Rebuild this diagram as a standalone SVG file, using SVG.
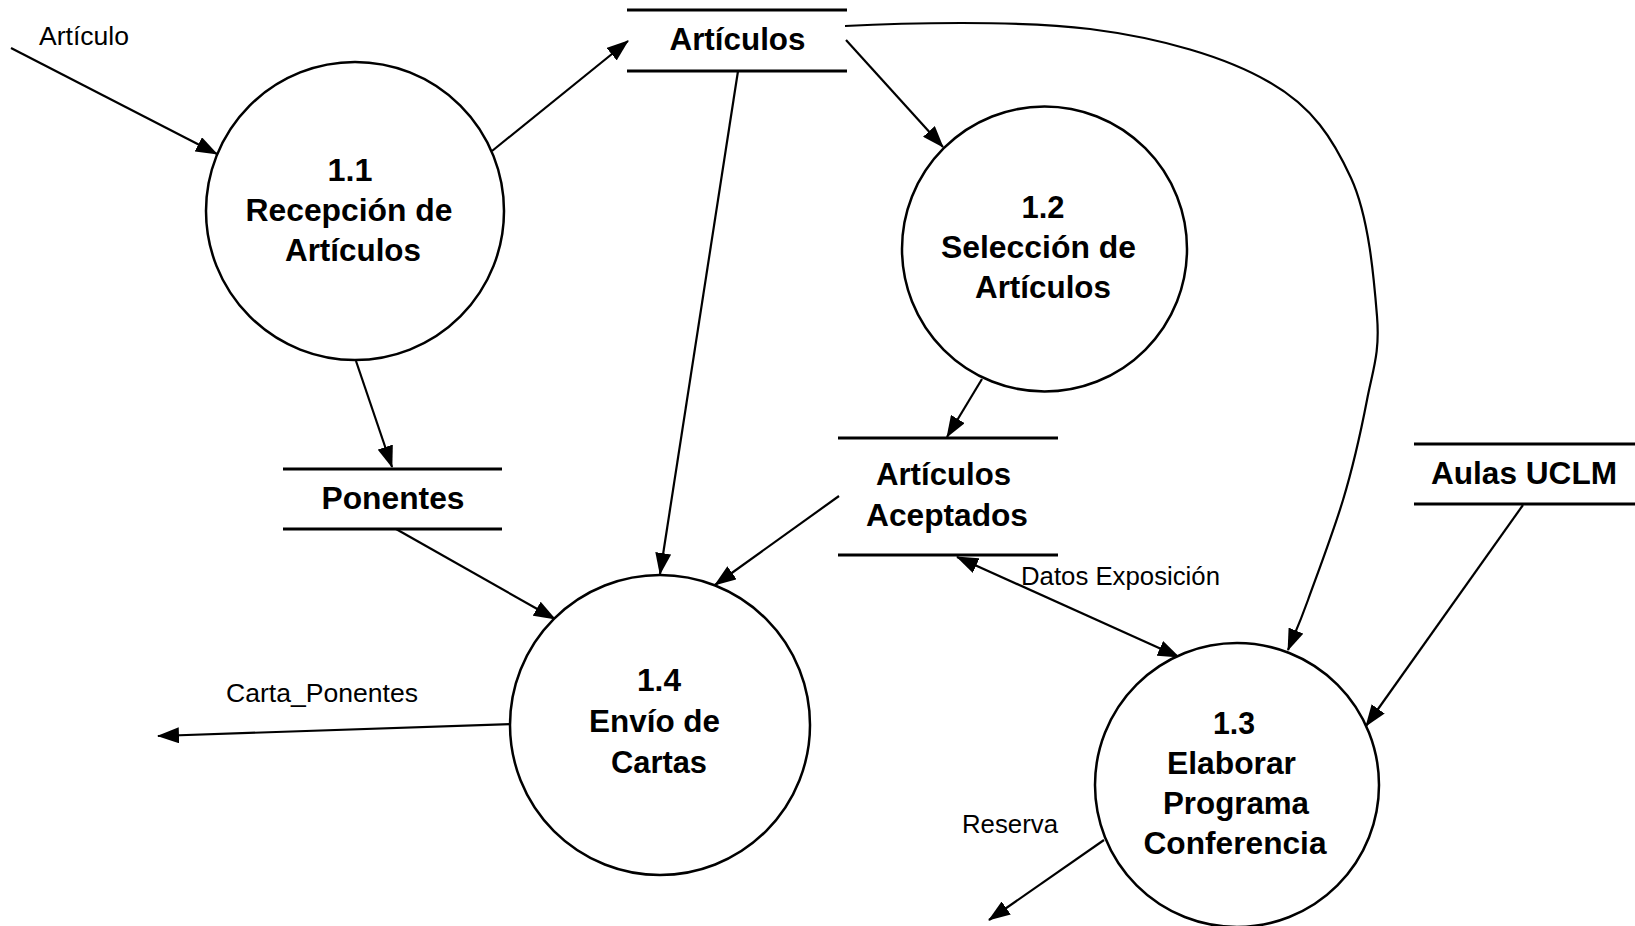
<svg xmlns="http://www.w3.org/2000/svg" width="1635" height="926" viewBox="0 0 1635 926">
<style>
.proc{fill:#fff;stroke:#000;stroke-width:2.5}
.store{stroke:#000;stroke-width:3}
.b{font-family:"Liberation Sans",Arial,sans-serif;font-weight:bold;font-size:31.5px;fill:#000;text-anchor:middle}
.r{font-family:"Liberation Sans",Arial,sans-serif;font-size:26px;fill:#000}
.flow{fill:none;stroke:#000;stroke-width:2.2}
</style>
<defs>
<marker id="ah" viewBox="0 0 22 16" refX="21" refY="8" markerWidth="22" markerHeight="16" markerUnits="userSpaceOnUse" orient="auto-start-reverse">
<path d="M0,0 L22,8 L0,16 z" fill="#000"/>
</marker>
</defs>
<rect width="1635" height="926" fill="#fff"/>

<g id="connectors">
<line class="flow" x1="11" y1="48" x2="217" y2="154" marker-end="url(#ah)"/>
<line class="flow" x1="492" y1="151" x2="628" y2="41" marker-end="url(#ah)"/>
<line class="flow" x1="738" y1="71" x2="660" y2="574" marker-end="url(#ah)"/>
<line class="flow" x1="846" y1="40" x2="943" y2="147" marker-end="url(#ah)"/>
<path class="flow" d="M845,26 C900,23 1019,20 1090,29 C1161,38 1226,57 1269,82 C1313,107 1333,139 1351,178 C1369,217 1374,279 1377,316 C1380,353 1373,369 1367,400 C1361,431 1353,467 1343,500 C1333,533 1317,575 1308,600 C1299,625 1295,633 1288,650" marker-end="url(#ah)"/>
<line class="flow" x1="982" y1="379" x2="947" y2="437" marker-end="url(#ah)"/>
<line class="flow" x1="356" y1="361" x2="392" y2="467" marker-end="url(#ah)"/>
<line class="flow" x1="396" y1="529" x2="555" y2="619" marker-end="url(#ah)"/>
<line class="flow" x1="839" y1="496" x2="715" y2="585" marker-end="url(#ah)"/>
<line class="flow" x1="511" y1="724" x2="158" y2="736" marker-end="url(#ah)"/>
<line class="flow" x1="957" y1="557" x2="1179" y2="657" marker-start="url(#ah)" marker-end="url(#ah)"/>
<line class="flow" x1="1523" y1="505" x2="1366" y2="726" marker-end="url(#ah)"/>
<line class="flow" x1="1104" y1="840" x2="989" y2="920" marker-end="url(#ah)"/>
<text class="r" x="39" y="45" textLength="90" lengthAdjust="spacingAndGlyphs">Artículo</text>
<text class="r" x="226" y="702" textLength="192" lengthAdjust="spacingAndGlyphs">Carta_Ponentes</text>
<text class="r" x="1021" y="585" textLength="199" lengthAdjust="spacingAndGlyphs">Datos Exposición</text>
<text class="r" x="962" y="833" textLength="96" lengthAdjust="spacingAndGlyphs">Reserva</text>
</g>

<g id="store-articulos">
<line class="store" x1="627" y1="10" x2="847" y2="10"/>
<line class="store" x1="627" y1="71" x2="847" y2="71"/>
<text class="b" x="737.5" y="50" textLength="136" lengthAdjust="spacingAndGlyphs">Artículos</text>
</g>

<g id="store-ponentes">
<line class="store" x1="283" y1="469" x2="502" y2="469"/>
<line class="store" x1="283" y1="529" x2="502" y2="529"/>
<text class="b" x="393" y="509" textLength="143" lengthAdjust="spacingAndGlyphs">Ponentes</text>
</g>

<g id="store-aceptados">
<line class="store" x1="838" y1="438" x2="1058" y2="438"/>
<line class="store" x1="838" y1="555" x2="1058" y2="555"/>
<text class="b" x="943.5" y="485" textLength="135" lengthAdjust="spacingAndGlyphs">Artículos</text>
<text class="b" x="947" y="526" textLength="162" lengthAdjust="spacingAndGlyphs">Aceptados</text>
</g>

<g id="store-aulas">
<line class="store" x1="1414" y1="444" x2="1635" y2="444"/>
<line class="store" x1="1414" y1="504" x2="1635" y2="504"/>
<text class="b" x="1524" y="484" textLength="186" lengthAdjust="spacingAndGlyphs">Aulas UCLM</text>
</g>

<g id="p11">
<circle class="proc" cx="355" cy="211" r="149"/>
<text class="b" x="350" y="181" textLength="45" lengthAdjust="spacingAndGlyphs">1.1</text>
<text class="b" x="349" y="221" textLength="207" lengthAdjust="spacingAndGlyphs">Recepción de</text>
<text class="b" x="353" y="261" textLength="136" lengthAdjust="spacingAndGlyphs">Artículos</text>
</g>

<g id="p12">
<circle class="proc" cx="1044.5" cy="249" r="142.5"/>
<text class="b" x="1043" y="218" textLength="43" lengthAdjust="spacingAndGlyphs">1.2</text>
<text class="b" x="1038.5" y="258" textLength="195" lengthAdjust="spacingAndGlyphs">Selección de</text>
<text class="b" x="1043" y="298" textLength="136" lengthAdjust="spacingAndGlyphs">Artículos</text>
</g>

<g id="p14">
<circle class="proc" cx="660" cy="725" r="150"/>
<text class="b" x="659" y="691" textLength="44" lengthAdjust="spacingAndGlyphs">1.4</text>
<text class="b" x="654.5" y="732" textLength="131" lengthAdjust="spacingAndGlyphs">Envío de</text>
<text class="b" x="659" y="773" textLength="96" lengthAdjust="spacingAndGlyphs">Cartas</text>
</g>

<g id="p13">
<circle class="proc" cx="1237" cy="785" r="142"/>
<text class="b" x="1234" y="734" textLength="42" lengthAdjust="spacingAndGlyphs">1.3</text>
<text class="b" x="1231.5" y="774" textLength="129" lengthAdjust="spacingAndGlyphs">Elaborar</text>
<text class="b" x="1236" y="814" textLength="146" lengthAdjust="spacingAndGlyphs">Programa</text>
<text class="b" x="1235" y="854" textLength="183" lengthAdjust="spacingAndGlyphs">Conferencia</text>
</g>
</svg>
